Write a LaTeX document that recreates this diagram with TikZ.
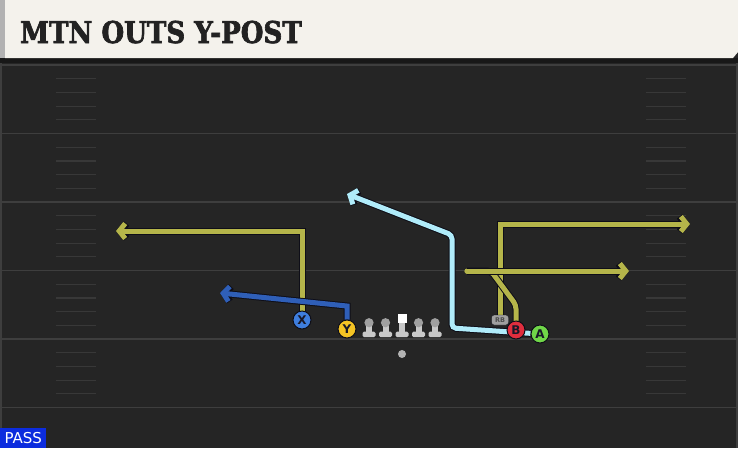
\documentclass[tikz,border=0pt]{standalone}
\usepackage{fontspec}
\setsansfont{DejaVu Sans}
\newfontfamily\titlefont[FakeStretch=0.87,FakeBold=2.2]{DejaVu Serif}
\usetikzlibrary{positioning,arrows.meta}

\definecolor{fieldbg}{RGB}{37,37,37}
\definecolor{fieldband}{RGB}{24,24,24}
\definecolor{yardgray}{RGB}{62,62,62}
\definecolor{hashgray}{RGB}{56,56,56}
\definecolor{titlebg}{RGB}{244,242,236}
\definecolor{titletxt}{RGB}{34,34,34}
\definecolor{passblue}{RGB}{12,44,222}
\definecolor{olive}{RGB}{181,181,74}
\definecolor{navyroute}{RGB}{47,95,184}
\definecolor{iceroute}{RGB}{176,236,250}
\definecolor{outline}{RGB}{14,14,24}
\definecolor{letter}{RGB}{24,24,40}
\definecolor{xblue}{RGB}{62,126,222}
\definecolor{yyellow}{RGB}{245,196,36}
\definecolor{bred}{RGB}{224,46,62}
\definecolor{agreen}{RGB}{112,214,72}
\definecolor{lmlight}{RGB}{200,200,200}
\definecolor{lmhead}{RGB}{160,160,160}

\pgfdeclarelayer{field}
\pgfdeclarelayer{routes}
\pgfsetlayers{field,routes,main}

\begin{document}
\begin{tikzpicture}[
                    x=1pt, y=-1pt,
                    node distance=16.5pt,
                    yardline/.style={draw=yardgray, line width=1.6pt},
                    hashmark/.style={draw=hashgray, line width=1.2pt},
                    player/.style={
                        circle,
                        draw=outline,
                        line width=1pt,
                        minimum size=18pt,
                        inner sep=0pt,
                        text=letter,
                        font=\sffamily\bfseries\fontsize{12}{12}\selectfont
                    },
                    lineman/.style={rectangle, minimum width=13pt, minimum height=19pt, inner sep=0pt},
                    route/.style={
                        draw=#1,
                        line width=5pt,
                        preaction={draw=outline, line width=7pt},
                        -{Straight Barb[length=6pt,width=15pt]}
                    }
                ]
                    \useasboundingbox (0,0) rectangle (738,448);

                    % Field
                    \begin{pgfonlayer}{field}
                    \fill[fieldbg] (0,0) rectangle (738,448);
                    \fill[fieldband] (0,58) rectangle (738,63);
                    \draw[yardgray, line width=1.5pt] (1,63) -- (1,448);
                    \draw[yardgray, line width=1.5pt] (737,63) -- (737,448);
                    \foreach \k in {0,...,5}
                        \draw[yardline] (2,65+68.5*\k) -- (736,65+68.5*\k);
                    \foreach \k in {0,...,4}
                        \foreach \j in {1,...,4} {
                            \draw[hashmark] (56,65+68.5*\k+13.7*\j) -- (96,65+68.5*\k+13.7*\j);
                            \draw[hashmark] (646,65+68.5*\k+13.7*\j) -- (686,65+68.5*\k+13.7*\j);
                        }
                    \fill[titlebg] (5,0) -- (738,0) -- (738,52) -- (733,58) -- (5,58) -- cycle;
                    \fill[black!30] (0,0) rectangle (5,58);
                    \end{pgfonlayer}

                    \node[anchor=base west, inner sep=0pt, text=titletxt,
                          font=\titlefont\bfseries\fontsize{30}{30}\selectfont] (title) at (20,43) {MTN OUTS Y-POST};
                    \node[anchor=south west, fill=passblue, text=white, minimum width=46pt, minimum height=20pt,
                          inner sep=0pt, font=\sffamily\fontsize{15}{15}\selectfont] (pass) at (0,448) {PASS};

                    % Line
                    \node[lineman] (c) at (402,327.5) {};
                    \node[lineman] (lg) [left of=c] {};
                    \node[lineman] (lt) [left of=lg] {};
                    \node[lineman] (rg) [right of=c] {};
                    \node[lineman] (rt) [right of=rg] {};
                    \foreach \n in {lt,lg,c,rg,rt} {
                        \fill[lmlight, rounded corners=1.5pt] ([xshift=-6.5pt]\n.south) rectangle ([xshift=6.5pt,yshift=5.5pt]\n.south);
                        \fill[lmlight] ([xshift=-3pt,yshift=4pt]\n.south) rectangle ([xshift=3pt,yshift=14pt]\n.south);
                    }
                    \foreach \n in {lt,lg,rg,rt}
                        \fill[lmhead] ([yshift=14.5pt]\n.south) circle (4.6pt);
                    \fill[white] ([xshift=-4.5pt,yshift=14pt]c.south) rectangle ([xshift=4.5pt,yshift=23pt]c.south);
                    \node[circle, fill=lmhead!80, minimum size=8pt, inner sep=0pt] (ball) at (402,354) {};

                    % Players
                    \node[player, fill=xblue] (X) at (302,320) {X};
                    \node[player, fill=yyellow] (Y) at (347,329) {Y};
                    \node[player, fill=bred] (B) at (516,330) {B};
                    \node[player, fill=agreen] (A) at (540,334) {A};
                    \node[draw=outline, fill=lmhead, text=black!70, rounded corners=2.5pt, minimum width=17pt,
                          minimum height=10pt, inner sep=0pt, font=\sffamily\bfseries\fontsize{6.5}{6.5}\selectfont] (RB) at (500,320) {RB};

                    \coordinate (xEnd) at (116,231);
                    \coordinate (yEnd) at (220,293);
                    \coordinate (aCorner) at (452,328);
                    \coordinate (aEnd) at (347,194);
                    \coordinate (rbEnd) at (690,224);
                    \coordinate (bBack) at (467,271);
                    \coordinate (bEnd) at (629,271);

                    % Routes
                    \begin{pgfonlayer}{routes}
                    \draw[route=olive] (X) |- (xEnd);
                    \draw[route=navyroute] (Y) -- ++(0,-23) -- (yEnd);
                    \draw[route=iceroute, rounded corners=4pt] (A) -- (aCorner) -- ++(0,-93) -- (aEnd);
                    \draw[route=olive] (RB) |- (rbEnd);
                    \draw[route=olive, -, line cap=round, rounded corners=4pt] (B) -- ++(0,-25) -- (491,271) -- (bBack);
                    \draw[route=olive, line cap=round] (bBack) -- (bEnd);
                    \end{pgfonlayer}
                \end{tikzpicture}
\end{document}
